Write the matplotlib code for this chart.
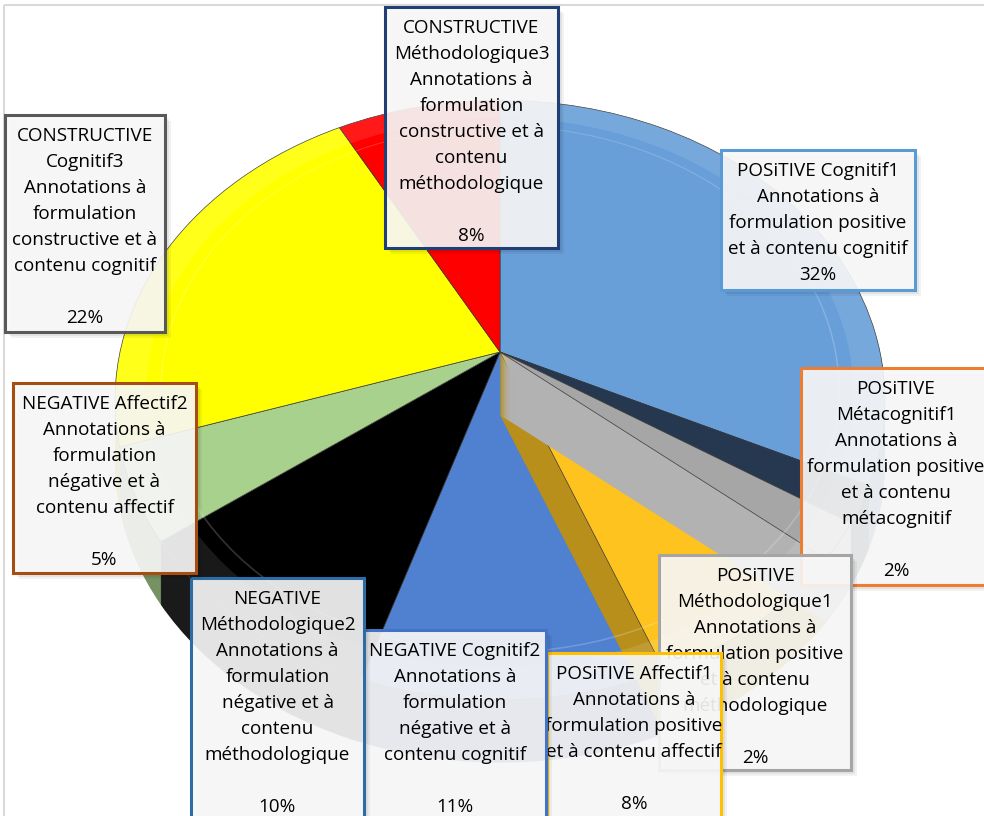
import numpy as np
import matplotlib.pyplot as plt
import matplotlib.transforms as mtransforms
from matplotlib.colors import to_rgb
from matplotlib.patches import Rectangle, Wedge

# slices, clockwise from 12 o'clock
labels = [
    "POSiTIVE Cognitif1\nAnnotations à\nformulation positive\net à contenu cognitif",
    "POSiTIVE\nMétacognitif1\nAnnotations à\nformulation positive\net à contenu\nmétacognitif",
    "POSiTIVE\nMéthodologique1\nAnnotations à\nformulation positive\net à contenu\nméthodologique",
    "POSiTIVE Affectif1\nAnnotations à\nformulation positive\net à contenu affectif",
    "NEGATIVE Cognitif2\nAnnotations à\nformulation\nnégative et à\ncontenu cognitif",
    "NEGATIVE\nMéthodologique2\nAnnotations à\nformulation\nnégative et à\ncontenu\nméthodologique",
    "NEGATIVE Affectif2\nAnnotations à\nformulation\nnégative et à\ncontenu affectif",
    "CONSTRUCTIVE\nCognitif3\nAnnotations à\nformulation\nconstructive et à\ncontenu cognitif",
    "CONSTRUCTIVE\nMéthodologique3\nAnnotations à\nformulation\nconstructive et à\ncontenu\nméthodologique",
]
values = [32, 2, 2, 8, 11, 10, 5, 22, 8]
slice_colors = ["#689fd9", "#263750", "#a6a6a6", "#fec31e", "#5080d0",
                "#000000", "#a9d18e", "#ffff00", "#ff0000"]
box_edges = ["#5b9bd5", "#ed7d31", "#a5a5a5", "#ffc000", "#4472c4",
             "#2e6ca6", "#a64d12", "#595959", "#203f74"]

# callout boxes in pixels: left, top, right, bottom
boxes = [(721, 150, 915, 290), (801, 368, 991, 585), (659, 555, 851, 770),
         (547, 653, 721, 822), (364, 630, 546, 822), (191, 578, 364, 822),
         (13, 383, 196, 573), (5, 115, 165, 332), (385, 7, 558, 248)]
blank_line = [False, True, True, True, True, True, True, True, True]

side_colors = [tuple(0.7 * c for c in to_rgb(col)) for col in slice_colors]
side_colors[5] = (0.1, 0.1, 0.1)
wall_colors = {3: "#b98f1c", 2: "#b2b2b2"}


class Tilt(mtransforms.Transform):
    """Perspective squash of the pie disc (back side further away)."""
    input_dims = output_dims = 2

    def __init__(self, k):
        super().__init__()
        self.k = k

    def transform_non_affine(self, values):
        xy = np.asarray(values, dtype=float)
        d = 1.0 + self.k * xy[:, 1]
        return np.column_stack([xy[:, 0] / d, xy[:, 1] / d])


W, H = 984, 816
cx, cy, sx, sy = 500, 352, 380, 292
depth = 63

fig = plt.figure(figsize=(W / 100, H / 100), dpi=100)
ax = fig.add_axes([0, 0, 1, 1])
tilt = Tilt(0.16)


def pie_layer(drop, colors, z, keep=None, edge=False):
    ws, _ = ax.pie(values, colors=colors, startangle=90, counterclock=False,
                   wedgeprops=dict(edgecolor="#3a3a3a" if edge else "none",
                                   linewidth=0.5))
    tr = tilt + mtransforms.Affine2D().translate(0, -drop / sy) + ax.transData
    for k, w in enumerate(ws):
        w.set_transform(tr)
        w.set_zorder(z)
        if keep is not None and k not in keep:
            w.set_visible(False)
    return ws


drops = np.arange(depth, 0, -1.0)

# pie thickness
for d in drops:
    pie_layer(d, side_colors, 1)
# top faces
pie_layer(0, slice_colors, 2, edge=True)
# radial walls of the affectif / methodologique positive slices
for z, idx in ((3, 3), (5, 2)):
    cols = [wall_colors[idx]] * len(values)
    for d in drops:
        pie_layer(d, cols, z, keep={idx})
    pie_layer(0, slice_colors, z + 1, keep={idx}, edge=True)

# glossy rim
ax.add_patch(Wedge((0, 0), 1, 0, 360, width=0.08, facecolor="white", alpha=0.1,
                   edgecolor="none", transform=tilt + ax.transData, zorder=8))
ax.add_patch(Wedge((0, 0), 0.885, 0, 360, width=0.004, facecolor="white", alpha=0.2,
                   edgecolor="none", transform=tilt + ax.transData, zorder=8))

ax.set_aspect("auto")
ax.set_xlim(-cx / sx, (W - cx) / sx)
ax.set_ylim(-(H - cy) / sy, cy / sy)
ax.axis("off")

# overlay in pixel coordinates for the callouts
ov = fig.add_axes([0, 0, 1, 1])
ov.set_xlim(0, W)
ov.set_ylim(H, 0)
ov.axis("off")

ov.add_patch(Rectangle((4, 5), W, H, fill=False, edgecolor="#d9d9d9",
                       linewidth=1.5, clip_on=False))

for i, (lab, v) in enumerate(zip(labels, values)):
    x0, y0, x1, y1 = boxes[i]
    z = 10 + i * 3
    for s, a in ((6, 0.05), (4, 0.06), (2, 0.08)):
        ov.add_patch(Rectangle((x0 + s, y0 + s), x1 - x0, y1 - y0, facecolor="black",
                               alpha=a, edgecolor="none", zorder=z))
    ov.add_patch(Rectangle((x0, y0), x1 - x0, y1 - y0, facecolor="#fbfbfb", alpha=0.9,
                           edgecolor="none", zorder=z + 1))
    ov.add_patch(Rectangle((x0, y0), x1 - x0, y1 - y0, fill=False,
                           edgecolor=box_edges[i], linewidth=2.2, zorder=z + 2))
    lines = lab.split("\n") + ([""] if blank_line[i] else []) + [f"{v}%"]
    xc = (x0 + x1) / 2
    for j, line in enumerate(lines):
        ov.text(xc, y0 + 26 + j * 26, line, ha="center", va="baseline",
                fontsize=13.6, family="Open Sans", color="black", zorder=z + 2)

fig.savefig("out.png", dpi=100)
